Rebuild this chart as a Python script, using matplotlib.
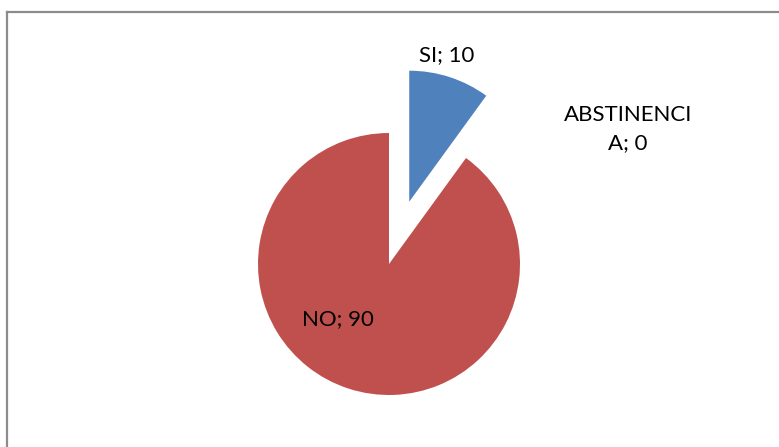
import textwrap
import matplotlib
matplotlib.use("Agg")
import matplotlib.pyplot as plt
from matplotlib.lines import Line2D

categories = ["SI", "NO", "ABSTINENCIA"]
values = [10, 90, 0]
colors = ["#4F81BD", "#C0504D", "#4BACC6"]
explode = [0.5, 0.0, 0.0]

W, H = 779, 447
fig = plt.figure(figsize=(W / 100, H / 100), dpi=100)
fig.patch.set_facecolor("white")

# pie centre and radius in pixel units; axes limits keep 1 unit = radius
cx, cy, r = 389.0, 264.0, 131.0
ax = fig.add_axes([0, 0, 1, 1])
ax.pie(values, colors=colors, explode=explode, startangle=90,
       counterclock=False, radius=1.0, center=(0, 0),
       wedgeprops=dict(linewidth=0))
ax.set_xlim(-cx / r, (W - cx) / r)
ax.set_ylim(-(H - cy) / r, cy / r)
ax.set_aspect("auto")
ax.axis("off")

def px(x, y):
    return ((x - cx) / r, (cy - y) / r)

# chart frame (top and left edges visible within the canvas)
fig.add_artist(Line2D([7 / W, 7 / W], [0, 1 - 12 / H], color="#8C8C8C",
                      lw=1.6, transform=fig.transFigure))
fig.add_artist(Line2D([7 / W, 1], [1 - 12 / H, 1 - 12 / H], color="#8C8C8C",
                      lw=1.6, transform=fig.transFigure))

label_pos = [(447, 55), (338, 319), (628, 129)]
font = dict(family=["Lato", "DejaVu Sans"], fontsize=16, color="black")
for cat, val, (lx, ly) in zip(categories, values, label_pos):
    txt = textwrap.fill(f"{cat}; {val}", 10)
    ax.text(*px(lx, ly), txt, ha="center", va="center",
            multialignment="center", linespacing=1.5, **font)

fig.savefig("out.png", dpi=100, facecolor="white")
